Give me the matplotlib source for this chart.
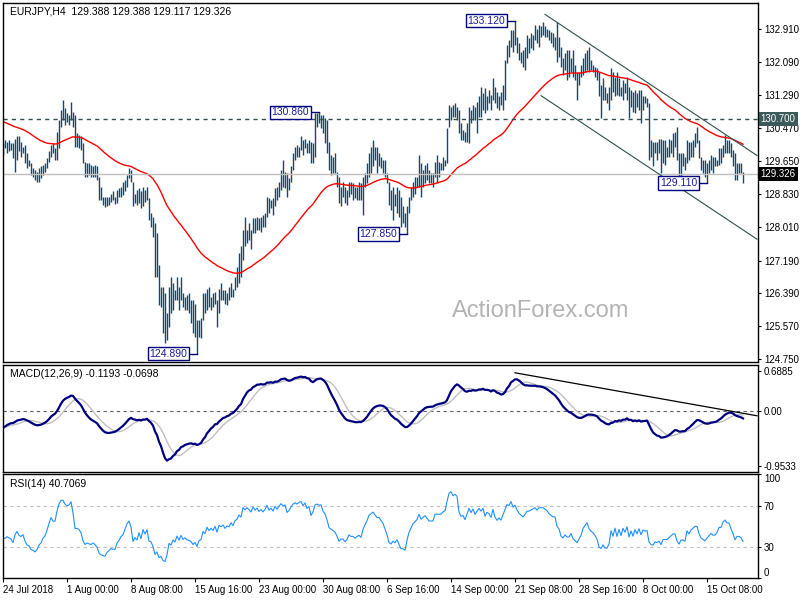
import numpy as np
import pandas as pd
import matplotlib
matplotlib.use("Agg")
import matplotlib.pyplot as plt
from matplotlib.transforms import blended_transform_factory

plt.rcParams['font.family'] = ['Liberation Sans', 'DejaVu Sans']

# EURJPY H4 bars (high / low / close)
high = [
    # 24 Jul - 3 Aug
    130.09, 130.17, 130.13, 130.17, 130.09, 130.09, 130.21, 130.26, 130.26, 130.13,
    130.01, 130.05, 129.84, 129.68, 129.60, 129.47, 129.43, 129.39, 129.47, 129.52,
    129.56, 129.60, 129.72, 129.89, 130.05, 130.09, 129.97, 130.38, 130.67, 130.92,
    131.16, 130.96, 130.83, 130.79, 131.12, 130.87, 130.79, 130.34, 130.30, 130.26,
    130.09, 129.64, 129.60, 129.60, 129.56, 129.52, 129.56, 129.52, 129.27, 129.02,
    128.77, 128.77, 128.77, 128.77, 128.85, 128.90, 128.77, 128.94, 128.98, 129.02,
    129.14, 129.19, 129.31, 129.47,
    # 8 Aug - 22 Aug
    129.43, 129.14, 128.85, 128.94, 128.98, 128.90, 129.02, 128.94, 129.02, 128.73,
    128.36, 128.28, 128.11, 127.87, 127.08, 126.55, 126.55, 126.38, 125.89, 126.55,
    126.79, 126.63, 126.46, 126.79, 126.55, 126.79, 126.38, 126.30, 126.34, 126.38,
    126.22, 126.22, 126.13, 125.72, 125.72, 125.76, 126.38, 126.38, 126.50, 126.55,
    126.30, 126.38, 126.42, 126.22, 126.50, 126.63, 126.46, 126.46, 126.38, 126.55,
    126.63, 126.50, 126.79, 127.04, 127.37, 127.54, 127.95, 128.28, 127.95, 128.11,
    127.95, 128.24,
    # 23 Aug - 6 Sep
    128.24, 128.28, 128.24, 128.28, 128.32, 128.36, 128.77, 128.73, 128.69, 128.73,
    128.98, 129.02, 129.14, 129.43, 129.68, 129.39, 129.35, 129.23, 129.52, 129.84,
    130.01, 130.05, 130.01, 130.26, 130.17, 130.21, 130.09, 130.17, 130.13, 130.09,
    130.83, 130.83, 130.86, 130.79, 130.79, 130.71, 130.67, 130.13, 129.80, 129.76,
    129.84, 129.39, 129.27, 129.02, 129.14, 129.02, 128.94, 129.14, 129.14, 129.10,
    129.02, 129.02, 129.14, 129.10, 129.27, 129.35, 129.60, 129.84, 130.01, 130.17,
    130.01,
    # 6 Sep - 19 Sep
    130.01, 129.84, 129.76, 129.68, 129.68, 129.35, 129.14, 128.94, 129.02, 128.85,
    129.02, 128.94, 128.77, 128.53, 128.36, 128.53, 128.77, 129.02, 129.14, 129.27,
    129.27, 129.80, 129.60, 129.43, 129.56, 129.60, 129.43, 129.35, 129.35, 129.64,
    129.80, 129.64, 129.60, 129.76, 129.68, 130.46, 131.04, 131.00, 131.04, 131.08,
    131.00, 130.92, 130.59, 130.42, 130.38, 130.59, 131.00, 130.92, 131.04, 131.00,
    131.12, 131.25, 131.49, 131.33, 131.45, 131.25, 131.41, 131.29, 131.70, 131.49,
    131.37, 131.25, 131.37, 131.53,
    # 19 Sep - 4 Oct
    132.15, 132.52, 132.65, 132.89, 132.89, 133.12, 132.73, 132.56, 132.36, 132.40,
    132.48, 132.77, 132.69, 132.81, 132.77, 133.02, 132.93, 133.02, 132.98, 133.10,
    132.98, 132.93, 132.89, 132.85, 132.81, 132.73, 133.10, 132.73, 132.48, 132.19,
    132.32, 132.40, 132.40, 132.19, 132.40, 132.03, 131.86, 131.86, 132.03, 132.19,
    132.32, 132.40, 132.48, 132.15, 132.03, 131.99, 131.95, 131.86, 131.53, 131.70,
    131.49, 131.33, 131.49, 131.95, 131.86, 131.74, 131.86, 131.70, 131.49, 131.66,
    131.58, 131.74, 131.49,
    # 4 Oct - 18 Oct
    131.41, 131.37, 131.41, 131.33, 131.41, 131.41, 131.25, 131.25, 131.20, 131.08,
    130.17, 130.13, 130.13, 130.13, 130.21, 130.21, 130.17, 130.17, 130.01, 130.21,
    130.17, 130.34, 130.38, 130.50, 129.84, 129.84, 129.84, 129.76, 130.17, 130.13,
    130.13, 130.17, 130.34, 130.50, 130.17, 129.76, 129.68, 129.68, 129.60, 129.68,
    129.80, 129.76, 129.76, 129.68, 129.97, 129.97, 130.05, 130.30, 130.17, 130.17,
    130.09, 129.93, 129.84, 129.60, 129.60, 129.60, 129.388,
]
low = [
    129.80, 129.97, 129.84, 129.89, 129.93, 129.72, 129.39, 129.68, 129.89, 129.76,
    129.84, 129.60, 129.47, 129.52, 129.31, 129.27, 129.19, 129.14, 129.14, 129.23,
    129.31, 129.39, 129.47, 129.64, 129.76, 129.84, 129.68, 129.68, 129.97, 130.50,
    130.67, 130.54, 130.63, 130.54, 130.67, 130.50, 130.01, 130.01, 129.97, 129.93,
    129.60, 129.27, 129.27, 129.31, 129.27, 129.27, 129.27, 129.19, 128.69, 128.69,
    128.57, 128.51, 128.53, 128.57, 128.65, 128.69, 128.59, 128.61, 128.77, 128.77,
    128.81, 128.90, 129.02, 129.23,
    129.14, 128.53, 128.61, 128.57, 128.61, 128.48, 128.53, 128.65, 128.69, 128.19,
    128.03, 127.78, 126.79, 126.79, 126.09, 126.05, 125.39, 125.15, 125.23, 125.56,
    125.89, 125.97, 126.22, 126.22, 125.97, 126.22, 126.05, 125.97, 125.97, 125.89,
    125.64, 125.39, 125.31, 124.89, 125.31, 125.27, 125.72, 125.89, 125.97, 126.05,
    125.97, 126.05, 126.13, 125.56, 125.89, 126.22, 126.22, 126.13, 126.09, 126.22,
    126.30, 126.30, 126.46, 126.55, 126.63, 126.79, 127.21, 127.54, 127.62, 127.70,
    127.49, 127.87,
    127.87, 127.95, 127.95, 127.91, 128.03, 128.03, 128.28, 128.36, 128.48, 128.32,
    128.53, 128.69, 128.77, 128.94, 129.02, 128.98, 128.77, 128.94, 129.14, 129.43,
    129.68, 129.76, 129.76, 129.93, 129.80, 129.97, 129.84, 129.84, 129.60, 129.60,
    129.76, 130.50, 130.59, 130.46, 130.34, 130.09, 129.84, 129.43, 129.31, 129.35,
    129.35, 129.02, 128.61, 128.53, 128.77, 128.61, 128.57, 128.77, 128.85, 128.69,
    128.73, 128.69, 128.69, 128.69, 128.32, 129.02, 129.10, 129.27, 129.35, 129.52,
    129.68,
    129.35, 129.52, 129.47, 129.35, 129.27, 129.10, 128.57, 128.44, 128.19, 128.53,
    128.36, 128.28, 128.03, 128.11, 128.03, 127.85, 128.36, 128.69, 128.77, 128.85,
    129.02, 129.02, 128.77, 129.02, 129.10, 129.19, 129.10, 129.10, 129.02, 129.27,
    129.10, 129.27, 129.43, 129.43, 129.52, 129.60, 130.50, 130.67, 130.75, 130.75,
    130.67, 130.34, 130.17, 130.17, 130.13, 130.13, 130.09, 130.59, 130.67, 130.67,
    130.34, 130.75, 130.75, 130.92, 130.83, 130.92, 131.08, 130.92, 131.16, 131.08,
    130.96, 130.92, 131.04, 130.92,
    131.16, 132.07, 132.23, 132.48, 132.36, 132.52, 132.32, 132.15, 132.07, 131.99,
    131.90, 132.19, 132.32, 132.44, 132.40, 132.65, 132.56, 132.48, 132.73, 132.77,
    132.73, 132.73, 132.65, 132.56, 132.48, 132.40, 132.11, 132.23, 131.99, 131.78,
    131.90, 131.66, 131.74, 131.86, 131.74, 131.66, 131.16, 131.53, 131.74, 131.78,
    131.86, 131.90, 131.86, 131.90, 131.86, 131.74, 131.66, 131.25, 130.71, 131.16,
    131.16, 131.08, 130.92, 131.16, 131.37, 131.25, 131.29, 131.25, 131.25, 131.16,
    131.33, 131.16, 130.71,
    131.00, 130.87, 130.83, 131.00, 130.92, 130.59, 130.92, 131.08, 131.00, 129.68,
    129.76, 129.52, 129.84, 129.68, 129.84, 129.35, 129.60, 129.56, 129.76, 129.76,
    129.84, 129.76, 130.01, 129.68, 129.23, 129.19, 129.52, 129.43, 129.60, 129.68,
    129.76, 129.76, 130.01, 130.09, 129.72, 129.43, 129.35, 129.27, 129.11, 129.35,
    129.43, 129.35, 129.52, 129.52, 129.56, 129.60, 129.76, 129.84, 129.84, 129.84,
    129.76, 129.52, 129.19, 129.19, 129.35, 129.35, 129.117,
]
close = [
    130.01, 130.01, 130.05, 130.01, 129.97, 129.84, 130.01, 130.09, 129.97, 129.93,
    129.97, 129.76, 129.60, 129.56, 129.39, 129.35, 129.27, 129.31, 129.39, 129.43,
    129.52, 129.56, 129.68, 129.84, 130.01, 129.93, 129.93, 130.26, 130.59, 130.83,
    130.83, 130.75, 130.71, 130.75, 130.92, 130.67, 130.17, 130.17, 130.13, 130.01,
    129.64, 129.43, 129.47, 129.43, 129.39, 129.43, 129.35, 129.23, 128.85, 128.73,
    128.65, 128.61, 128.69, 128.73, 128.77, 128.73, 128.73, 128.85, 128.90, 128.98,
    129.02, 129.14, 129.27, 129.35,
    129.20, 128.70, 128.80, 128.70, 128.90, 128.65, 128.95, 128.75, 128.90, 128.30,
    128.25, 127.90, 127.10, 127.20, 126.40, 126.45, 125.70, 125.50, 125.80, 126.40,
    126.20, 126.50, 126.30, 126.65, 126.25, 126.55, 126.15, 126.25, 126.05, 126.00,
    125.90, 125.60, 125.70, 125.30, 125.60, 125.64, 126.10, 125.95, 126.35, 126.10,
    126.25, 126.10, 126.35, 125.95, 126.40, 126.30, 126.42, 126.20, 126.35, 126.30,
    126.55, 126.38, 126.70, 126.80, 127.10, 127.00, 127.80, 127.70, 127.90, 127.80,
    127.70, 128.15,
    128.00, 128.20, 128.05, 128.20, 128.10, 128.30, 128.65, 128.45, 128.62, 128.50,
    128.90, 128.78, 129.05, 129.30, 129.20, 129.30, 129.00, 129.15, 129.45, 129.70,
    129.85, 129.80, 129.95, 130.05, 129.90, 130.15, 129.95, 130.10, 129.75, 130.00,
    130.60, 130.70, 130.65, 130.70, 130.45, 130.34, 130.09, 129.68, 129.60, 129.52,
    129.43, 129.19, 128.85, 128.94, 128.94, 128.77, 128.85, 129.02, 128.94, 128.94,
    128.85, 128.90, 128.94, 128.85, 129.10, 129.27, 129.43, 129.68, 129.76, 129.84,
    129.76,
    129.68, 129.68, 129.60, 129.52, 129.35, 129.14, 128.77, 128.69, 128.77, 128.69,
    128.77, 128.53, 128.28, 128.28, 128.19, 128.44, 128.69, 128.85, 129.02, 129.10,
    129.19, 129.43, 129.27, 129.35, 129.43, 129.35, 129.27, 129.27, 129.27, 129.52,
    129.52, 129.52, 129.52, 129.60, 129.64, 130.05, 130.70, 130.90, 130.80, 130.95,
    130.90, 130.45, 130.30, 130.35, 130.20, 130.50, 130.85, 130.70, 130.95, 130.75,
    130.95, 131.15, 131.05, 131.25, 130.95, 131.20, 131.15, 131.00, 131.55, 131.20,
    131.05, 131.20, 131.10, 131.45,
    131.85, 132.35, 132.30, 132.75, 132.50, 132.70, 132.48, 132.32, 132.23, 132.15,
    132.32, 132.56, 132.56, 132.65, 132.73, 132.81, 132.73, 132.89, 132.89, 132.89,
    132.85, 132.81, 132.73, 132.69, 132.65, 132.65, 132.40, 132.32, 132.07, 131.99,
    132.07, 131.99, 131.99, 132.07, 131.90, 131.82, 131.74, 131.82, 131.90, 132.07,
    132.15, 132.23, 132.07, 131.99, 131.95, 131.86, 131.74, 131.41, 131.33, 131.41,
    131.25, 131.25, 131.33, 131.66, 131.45, 131.70, 131.35, 131.60, 131.30, 131.60,
    131.40, 131.65, 131.05,
    131.35, 131.00, 131.35, 131.05, 131.35, 130.90, 131.20, 131.12, 131.15, 130.20,
    129.90, 129.84, 130.01, 129.93, 130.01, 129.68, 129.93, 129.93, 129.93, 130.01,
    130.09, 130.17, 130.17, 129.76, 129.52, 129.68, 129.68, 129.60, 130.01, 129.84,
    130.01, 130.09, 130.17, 130.17, 129.84, 129.60, 129.52, 129.43, 129.52, 129.60,
    129.68, 129.60, 129.60, 129.68, 129.84, 129.84, 130.01, 130.09, 130.01, 130.01,
    129.84, 129.68, 129.43, 129.52, 129.52, 129.47, 129.326,
]
assert len(high) == len(low) == len(close) == 371

# values of the indicators just before the first visible bar
ma_seed = 130.65
ema12_seed, ema26_seed = 129.98, 130.30
rsi_gain_seed, rsi_loss_seed = 0.05, 0.08

tick_bars = [0, 32, 64, 96, 128, 160, 192, 224, 256, 288, 320, 352]
tick_labels = ["24 Jul 2018", "1 Aug 00:00", "8 Aug 08:00", "15 Aug 16:00",
               "23 Aug 00:00", "30 Aug 08:00", "6 Sep 16:00", "14 Sep 00:00",
               "21 Sep 08:00", "28 Sep 16:00", "8 Oct 00:00", "15 Oct 08:00"]
price_ticks = [132.910, 132.090, 131.290, 130.470, 129.650, 128.830,
               128.010, 127.190, 126.390, 125.570, 124.750]

# swing labels: bar, price, text
swings = [(256, 133.12, "133.120"), (158, 130.86, "130.860"),
          (202, 127.85, "127.850"), (97, 124.89, "124.890"),
          (352, 129.11, "129.110")]
# channel lines (bar, price) pairs
chan_upper = ([271, 377], [133.28, 129.79])
chan_lower = ([269, 377], [131.27, 127.72])
macd_trend = ([256, 377], [0.66, -0.083])
level_line = 130.70
last_price = 129.326


def ema_seeded(vals, period, seed):
    k = 2.0 / (period + 1)
    out = np.empty(len(vals))
    prev = seed
    for j, v in enumerate(vals):
        prev = prev + k * (v - prev)
        out[j] = prev
    return out


close = np.array(close)
x = np.arange(len(close))
ma = ema_seeded(close, 55, ma_seed)
macd = ema_seeded(close, 12, ema12_seed) - ema_seeded(close, 26, ema26_seed)
signal = pd.Series(macd).rolling(9, min_periods=1).mean().values

d = np.diff(close, prepend=close[0])
ag, al = rsi_gain_seed, rsi_loss_seed
rsi = []
for v in d:
    ag = ag + (max(v, 0) - ag) / 14.0
    al = al + (max(-v, 0) - al) / 14.0
    rsi.append(100 - 100 / (1 + ag / al))

bar_col = '#17486a'
W, H = 800, 600
fig = plt.figure(figsize=(8, 6), dpi=100)
left, width = 2.5 / W, 755.2 / W
ax = fig.add_axes([left, 1 - 361.7 / H, width, 359 / H])
ax2 = fig.add_axes([left, 1 - 472.3 / H, width, 107.6 / H])
ax3 = fig.add_axes([left, 1 - 578.3 / H, width, 103.8 / H])

for a in (ax, ax2, ax3):
    a.set_xlim(-0.25, 377.35)
    for s in a.spines.values():
        s.set_linewidth(1)
        s.set_color('black')
    a.yaxis.tick_right()
    a.tick_params(axis='y', length=2, width=0.8, pad=2.5, labelsize=7)

# ---- price panel ----
ax.set_ylim(124.691, 133.568)
ax.vlines(x, low, high, color=bar_col, lw=1.0)
ax.plot(x, ma, color='red', lw=1)
ax.axhline(level_line, color='#2f4f4f', lw=1, ls=(0, (3, 3)))
ax.axhline(last_price, color='#c0c0c0', lw=1)
ax.plot(*chan_upper, color='#2f4f4f', lw=0.8)
ax.plot(*chan_lower, color='#2f4f4f', lw=0.8)
for b, p, t in swings:
    ax.plot([b - 5, b], [p, p], color='#000080', lw=1)
    ax.text(b - 5, p, t, ha='right', va='center', fontsize=7.5, color='#1c1c9a',
            bbox=dict(boxstyle='square,pad=0.15', fc='white', ec='#000080', lw=1))
ax.set_xticks([])
ax.set_yticks(price_ticks)
ax.set_yticklabels([f"{v:.3f}" for v in price_ticks])
tr = blended_transform_factory(ax.transAxes, ax.transData)
ax.text(1.004, level_line, "130.700", transform=tr, ha='left', va='center',
        fontsize=7, color='white',
        bbox=dict(boxstyle='square,pad=0.2', fc='#3c5a5a', ec='none'))
ax.text(1.004, last_price, "129.326", transform=tr, ha='left', va='center',
        fontsize=7, color='white',
        bbox=dict(boxstyle='square,pad=0.2', fc='black', ec='none'))
ax.text(7 / 755.2, 1 - 8.5 / 359, "EURJPY,H4  129.388 129.388 129.117 129.326",
        transform=ax.transAxes, ha='left', va='center', fontsize=7.5)
fig.text(541 / W, 1 - 311 / H, "ActionForex.com", ha='center', va='center',
         fontsize=17, color='#b4b4b4')

# ---- MACD panel ----
ax2.set_ylim(-1.06, 0.80)
ax2.axhline(0, color='#606060', lw=0.8, ls=(0, (3, 3)))
ax2.plot(x, signal, color='#c0c0c0', lw=1)
ax2.plot(x, macd, color='#000080', lw=1.6)
ax2.plot(*macd_trend, color='black', lw=0.9)
ax2.set_xticks([])
ax2.set_yticks([0.6885, 0.0, -0.9533])
ax2.set_yticklabels(["0.6885", "0.00", "-0.9533"])
ax2.text(7 / 755.2, 1 - 9 / 107.6, "MACD(12,26,9) -0.1193 -0.0698",
         transform=ax2.transAxes, ha='left', va='center', fontsize=7.5)

# ---- RSI panel ----
ax3.set_ylim(0, 100)
for lvl in (70, 30):
    ax3.axhline(lvl, color='#c0c0c0', lw=0.8, ls=(0, (3, 3)))
ax3.plot(x, rsi, color='#1e90ff', lw=0.8)
ax3.set_yticks([100, 70, 30, 0])
labs = ax3.set_yticklabels(["100", "70", "30", "0"])
labs[0].set_va('top')
labs[3].set_va('bottom')
ax3.set_xticks(tick_bars)
xl = ax3.set_xticklabels(tick_labels, fontsize=7)
for t in xl:
    t.set_ha('left')
ax3.tick_params(axis='x', length=3, width=0.8, pad=2)
ax3.text(7 / 755.2, 1 - 10 / 103.8, "RSI(14) 40.7069",
         transform=ax3.transAxes, ha='left', va='center', fontsize=7.5)

fig.savefig("out.png", dpi=100)
